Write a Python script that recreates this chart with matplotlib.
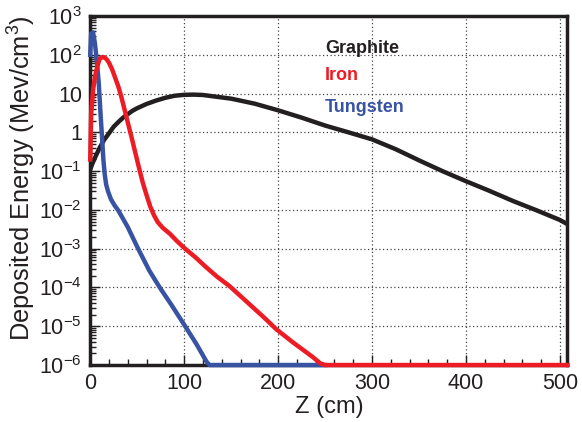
import numpy as np
import matplotlib
matplotlib.use("Agg")
import matplotlib.pyplot as plt
from matplotlib.ticker import FixedLocator, NullFormatter

plt.rcParams['font.family'] = ['Liberation Sans', 'DejaVu Sans']
plt.rcParams['mathtext.fontset'] = 'custom'
plt.rcParams['mathtext.rm'] = 'Liberation Sans'
plt.rcParams['mathtext.it'] = 'Liberation Sans:italic'

# values (Z in cm, deposited energy in Mev/cm^3)
graphite_z = [0, 2, 5, 10, 15, 20, 25, 30, 35, 40, 45, 50, 60, 70, 80, 90,
              100, 110, 120, 150, 175, 200, 225, 250, 275, 300, 325, 350,
              375, 400, 425, 450, 475, 500, 508]
graphite_e = [0.11, 0.15, 0.22, 0.4, 0.65, 0.95, 1.4, 1.85, 2.4, 2.95, 3.6,
              4.2, 5.4, 6.6, 7.8, 8.8, 9.3, 9.4, 9.2, 7.4, 5.5, 3.7, 2.4, 1.5,
              1.0, 0.66, 0.37, 0.19, 0.10, 0.055, 0.031, 0.017, 0.0098,
              0.0055, 0.0043]

iron_z = [0, 1, 3, 5, 8, 10, 12, 14, 16, 18, 20, 23, 26, 30, 33, 37, 40, 44,
          48, 52, 56, 60, 64, 68, 72, 77, 85, 92, 101, 112, 123, 135, 148,
          160, 173, 186, 198, 216, 237, 245, 250, 508]
iron_e = [0.2, 3, 12, 27, 55, 78, 86, 88, 83, 74, 62, 44, 28, 15, 8.5, 3.5,
          1.8, 0.75, 0.3, 0.12, 0.05, 0.024, 0.012, 0.0072, 0.0048, 0.0035,
          0.0024, 0.0016, 1e-3, 6e-4, 3.4e-4, 1.9e-4, 1.1e-4, 6e-5, 3.1e-5,
          1.6e-5, 8.4e-6, 3.8e-6, 1.6e-6, 1.1e-6, 1e-6, 1e-6]

tungsten_z = [0, 1, 3, 5, 7, 9, 11, 12.5, 14, 15.5, 17, 19, 22, 26, 30, 40,
              51, 63, 74, 86, 100, 113, 124, 127, 250]
tungsten_e = [100, 350, 380, 200, 70, 20, 3, 0.8, 0.2, 0.08, 0.045, 0.03,
              0.019, 0.013, 0.0096, 0.0036, 1e-3, 2.7e-4, 1e-4, 3.7e-5,
              1.1e-5, 3.5e-6, 1.2e-6, 1e-6, 1e-6]

ytick_vals = [1e3, 1e2, 10, 1, 1e-1, 1e-2, 1e-3, 1e-4, 1e-5, 1e-6]
ytick_labels = ['$10^{3}$', '$10^{2}$', '10', '1', '$10^{-1}$', '$10^{-2}$',
                '$10^{-3}$', '$10^{-4}$', '$10^{-5}$', '$10^{-6}$']
xtick_vals = [0, 100, 200, 300, 400, 500]

black = '#231F20'
red = '#ED1C24'
blue = '#3953A4'

fig = plt.figure(figsize=(5.82, 4.22), dpi=100)
ax = fig.add_axes([0.155, 0.135, 0.82, 0.827])

ax.plot(graphite_z, graphite_e, color=black, lw=3.2, zorder=3)
ax.plot(tungsten_z, tungsten_e, color=blue, lw=3.2, zorder=4, clip_on=False)
ax.plot(iron_z, iron_e, color=red, lw=3.2, zorder=5, clip_on=False)

ax.set_yscale('log')
ax.set_xlim(0, 508)
ax.set_ylim(1e-6, 1e3)

ax.set_yticks(ytick_vals)
ax.set_yticklabels(ytick_labels)
ax.set_xticks(xtick_vals)
ax.xaxis.set_minor_locator(FixedLocator(np.arange(0, 508, 20)))
ax.xaxis.set_minor_formatter(NullFormatter())
ax.yaxis.set_minor_formatter(NullFormatter())

ax.tick_params(axis='both', which='major', direction='in', length=7, width=1,
               labelsize=15.5, colors=black, pad=6)
ax.tick_params(axis='both', which='minor', direction='in', length=4, width=1,
               colors=black)
for s in ax.spines.values():
    s.set_linewidth(2.5)
    s.set_color(black)

ax.grid(True, which='major', linestyle=(0, (1, 2)), color='#444444', lw=0.9)

ax.set_xlabel('Z (cm)', fontsize=17, color=black, labelpad=1)
ax.set_ylabel('Deposited Energy (Mev/cm$^3$)', fontsize=18.3, color=black)
ax.yaxis.set_label_coords(-0.11, 0.535)

ax.text(250, 148, 'Graphite', color=black, fontsize=13, fontweight='bold',
        va='center', ha='left')
ax.text(250, 30, 'Iron', color=red, fontsize=13, fontweight='bold',
        va='center', ha='left')
ax.text(250, 4.4, 'Tungsten', color=blue, fontsize=13, fontweight='bold',
        va='center', ha='left')

fig.savefig('out.png', dpi=100)
